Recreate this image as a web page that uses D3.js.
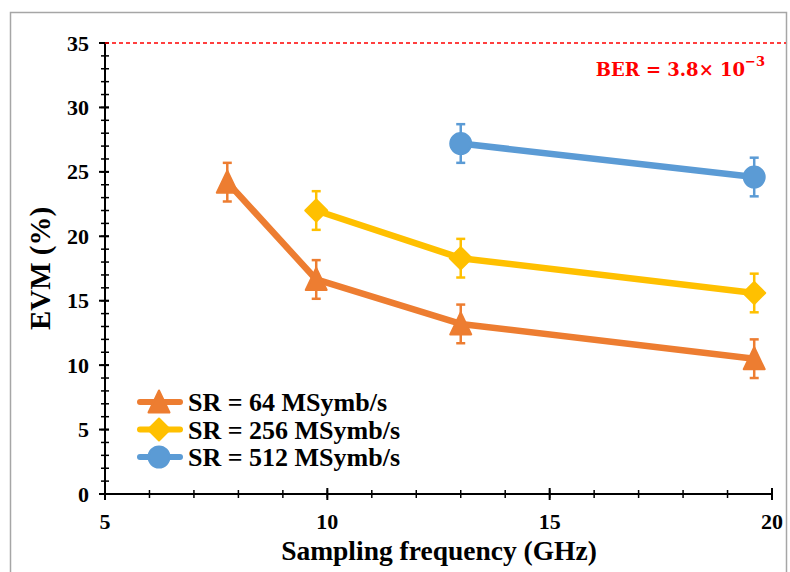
<!DOCTYPE html>
<html><head><meta charset="utf-8">
<script src="https://cdn.jsdelivr.net/npm/d3@7"></script>
<style>body{margin:0;background:#fff;} svg{display:block;}</style>
</head><body>
<svg id="c" width="790" height="572"></svg>
<script>
const seriesNames = ["SR = 64 MSymb/s", "SR = 256 MSymb/s", "SR = 512 MSymb/s"];
const x64 = [7.75, 9.75, 13, 19.6];
const y64 = [24.2, 16.65, 13.2, 10.5];
const e64 = [1.5, 1.5, 1.5, 1.5];
const x256 = [9.75, 13, 19.6];
const y256 = [22.0, 18.3, 15.6];
const e256 = [1.5, 1.5, 1.5];
const x512 = [13, 19.6];
const y512 = [27.2, 24.6];
const e512 = [1.5, 1.5];
const xTicks = [5, 10, 15, 20];
const yTicks = [0, 5, 10, 15, 20, 25, 30, 35];
const berLevel = 35;

const colors = ["#ED7D31", "#FFC000", "#5B9BD5"];

function marker(i) {
  if (i === 0) return "M0,-11.5 L10.5,10.5 L-10.5,10.5 Z";
  if (i === 1) return "M0,-11 L11,0 L0,11 L-11,0 Z";
  return d3.symbol().type(d3.symbolCircle).size(Math.PI * 10.5 * 10.5)();
}

const svg = d3.select("#c");
svg.append("rect").attr("x", 10.5).attr("y", 12.5).attr("width", 776).attr("height", 580)
  .attr("fill", "#fff").attr("stroke", "#a6a6a6").attr("stroke-width", 1.5);

const x = d3.scaleLinear().domain([5, 20]).range([105, 772]);
const y = d3.scaleLinear().domain([0, 35]).range([494, 43]);
const font = "'Liberation Serif', 'Times New Roman', serif";

const gx = svg.append("g");
d3.range(5, 20.01, 1).forEach(v => {
  gx.append("line").attr("x1", x(v)).attr("x2", x(v)).attr("y1", y(0) - 4).attr("y2", y(0) + 4)
    .attr("stroke", "#000").attr("stroke-width", 1.5);
});
d3.range(0, 35.01, 1).forEach(v => {
  gx.append("line").attr("x1", x(5) - 4).attr("x2", x(5) + 4).attr("y1", y(v)).attr("y2", y(v))
    .attr("stroke", "#000").attr("stroke-width", 1.5);
});
xTicks.forEach(v => {
  gx.append("line").attr("x1", x(v)).attr("x2", x(v)).attr("y1", y(0) - 6).attr("y2", y(0) + 6)
    .attr("stroke", "#000").attr("stroke-width", 2);
});
yTicks.forEach(v => {
  gx.append("line").attr("x1", x(5) - 6).attr("x2", x(5) + 4).attr("y1", y(v)).attr("y2", y(v))
    .attr("stroke", "#000").attr("stroke-width", 2);
});
gx.append("line").attr("x1", x(5)).attr("x2", x(20)).attr("y1", y(0)).attr("y2", y(0)).attr("stroke", "#000").attr("stroke-width", 2);
gx.append("line").attr("x1", x(5)).attr("x2", x(5)).attr("y1", y(0)).attr("y2", y(35)).attr("stroke", "#000").attr("stroke-width", 2);

xTicks.forEach(v => {
  svg.append("text").attr("x", x(v)).attr("y", 529).attr("text-anchor", "middle")
    .attr("font-family", font).attr("font-weight", "bold").attr("font-size", 22).text(v);
});
yTicks.forEach(v => {
  svg.append("text").attr("x", 89).attr("y", y(v) + 7.5).attr("text-anchor", "end")
    .attr("font-family", font).attr("font-weight", "bold").attr("font-size", 22).text(v);
});

svg.append("text").attr("x", 439).attr("y", 560).attr("text-anchor", "middle")
  .attr("font-family", font).attr("font-weight", "bold").attr("font-size", 27.5).text("Sampling frequency (GHz)");
svg.append("text").attr("transform", "translate(50," + ((y(0) + y(35)) / 2) + ") rotate(-90)")
  .attr("text-anchor", "middle").attr("font-family", font).attr("font-weight", "bold").attr("font-size", 29).text("EVM (%)");

svg.append("line").attr("x1", x(5)).attr("x2", 786).attr("y1", y(berLevel)).attr("y2", y(berLevel))
  .attr("stroke", "#ff0000").attr("stroke-width", 1.5).attr("stroke-dasharray", "4,3");
const ber = svg.append("text").attr("x", 765).attr("y", 76).attr("text-anchor", "end")
  .attr("font-family", "'DejaVu Serif', serif").attr("font-weight", "bold").attr("font-size", 18).attr("fill", "#ff0000");
ber.append("tspan").text("BER = 3.8× 10");
ber.append("tspan").attr("dy", -10).attr("font-size", 13).text("−3");

const data = [
  {xs: x64, ys: y64, es: e64},
  {xs: x256, ys: y256, es: e256},
  {xs: x512, ys: y512, es: e512}
];
const line = d3.line().x(d => x(d[0])).y(d => y(d[1]));
data.forEach((s, i) => {
  const pts = s.xs.map((xv, j) => [xv, s.ys[j], s.es[j]]);
  const g = svg.append("g");
  g.append("path").attr("d", line(pts)).attr("fill", "none").attr("stroke", colors[i]).attr("stroke-width", 6.5)
    .attr("stroke-linejoin", "round");
  pts.forEach(p => {
    const cx = x(p[0]);
    g.append("line").attr("x1", cx).attr("x2", cx).attr("y1", y(p[1] - p[2])).attr("y2", y(p[1] + p[2]))
      .attr("stroke", colors[i]).attr("stroke-width", 2.5);
    [p[1] - p[2], p[1] + p[2]].forEach(v => {
      g.append("line").attr("x1", cx - 4.5).attr("x2", cx + 4.5).attr("y1", y(v)).attr("y2", y(v))
        .attr("stroke", colors[i]).attr("stroke-width", 2.5);
    });
    g.append("path").attr("d", marker(i))
      .attr("transform", "translate(" + cx + "," + y(p[1]) + ")").attr("fill", colors[i])
      .attr("stroke", colors[i]).attr("stroke-width", 2).attr("stroke-linejoin", "round");
  });
});

seriesNames.forEach((n, i) => {
  const ly = 402 + i * 27.5;
  const g = svg.append("g");
  g.append("line").attr("x1", 140).attr("x2", 180).attr("y1", ly).attr("y2", ly)
    .attr("stroke", colors[i]).attr("stroke-width", 6).attr("stroke-linecap", "round");
  g.append("path").attr("d", marker(i))
    .attr("transform", "translate(159," + ly + ")").attr("fill", colors[i])
    .attr("stroke", colors[i]).attr("stroke-width", 2).attr("stroke-linejoin", "round");
  g.append("text").attr("x", 188).attr("y", ly + 9).attr("font-family", font).attr("font-weight", "bold")
    .attr("font-size", 26).text(n);
});
</script>
</body></html>
